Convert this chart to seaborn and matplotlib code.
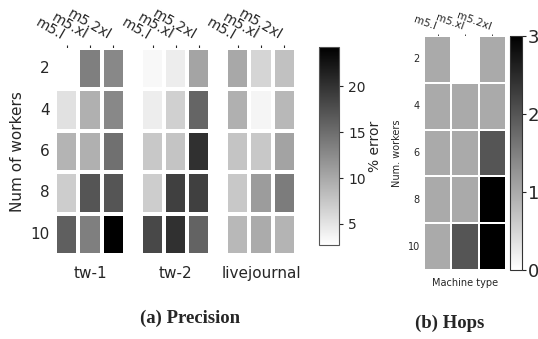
import numpy as np
import pandas as pd
import seaborn as sns
import matplotlib.pyplot as plt

# ---------- data ----------
machines = ["m5.l", "m5.xl", "m5.2xl"]
workers = [2, 4, 6, 8, 10]
datasets = ["tw-1", "tw-2", "livejournal"]

# % error per (workers, machine type)
tw1_err = [[2.7, 13.5, 12.8],
           [5.3, 9.4, 12.8],
           [9.1, 9.4, 14.8],
           [7.0, 17.1, 17.1],
           [16.2, 13.5, 24.3]]
tw2_err = [[3.3, 4.3, 10.4],
           [4.3, 6.7, 15.7],
           [7.4, 7.7, 20.2],
           [7.0, 18.9, 18.9],
           [18.2, 20.2, 15.9]]
lj_err = [[10.1, 6.3, 8.0],
          [9.4, 3.6, 8.7],
          [7.7, 7.4, 10.5],
          [7.4, 11.1, 13.8],
          [8.7, 9.8, 9.1]]

# hops per (workers, machine type)
hops = [[1, 0, 1],
        [1, 1, 1],
        [1, 1, 2],
        [1, 1, 3],
        [1, 2, 3]]

sns.set_style("white")
plt.rcParams['font.family'] = ['DejaVu Sans']

W, H = 538, 339
fig = plt.figure(figsize=(W / 100, H / 100), dpi=100)


def box(x0, y0, x1, y1):
    # pixel box -> figure fraction rect
    return [x0 / W, 1 - y1 / H, (x1 - x0) / W, (y1 - y0) / H]


# ---------- (a) Precision ----------
err_frames = [pd.DataFrame(d, index=workers, columns=machines)
              for d in (tw1_err, tw2_err, lj_err)]
panel_x = [(55, 125), (141, 210), (226, 296)]
cax = fig.add_axes(box(319, 47, 339, 245))

for i, (df, name, (x0, x1)) in enumerate(zip(err_frames, datasets, panel_x)):
    ax = fig.add_axes(box(x0, 48, x1, 255))
    last = i == len(datasets) - 1
    sns.heatmap(df, ax=ax, cmap="gray_r", vmin=2.7, vmax=24.3,
                linewidths=1.5, linecolor="white",
                cbar=last, cbar_ax=cax if last else None)
    ax.xaxis.tick_top()
    ax.set_xticklabels(machines, rotation=-30, ha="right", fontsize=10)
    ax.xaxis.set_label_position("bottom")
    ax.set_xlabel(name, fontsize=11, labelpad=8)
    ax.tick_params(axis="both", length=2, width=0.8, pad=2)
    if i == 0:
        ax.set_yticklabels(workers, rotation=0, fontsize=11)
        ax.set_ylabel("Num of workers", fontsize=11)
    else:
        ax.set_yticklabels([])
        ax.set_ylabel("")
    if last:
        cb = ax.collections[0].colorbar

cb.set_ticks([5, 10, 15, 20])
cb.ax.tick_params(labelsize=10, length=3, width=0.8)
cb.outline.set_linewidth(0.8)
cb.outline.set_edgecolor("#555555")
cb.set_label("% error", fontsize=10, labelpad=2)

# ---------- (b) Hops ----------
hops_df = pd.DataFrame(hops, index=workers, columns=machines)
hax = fig.add_axes(box(424, 36, 506, 270))
hcax = fig.add_axes(box(510, 36, 522, 270))
sns.heatmap(hops_df, ax=hax, cmap="gray_r", vmin=0, vmax=3,
            linewidths=1.2, linecolor="white", cbar_ax=hcax)
hax.xaxis.tick_top()
hax.set_xticklabels(machines, rotation=-20, ha="right", fontsize=7.5)
hax.set_yticklabels(workers, rotation=0, fontsize=7)
hax.xaxis.set_label_position("bottom")
hax.set_xlabel("Machine type", fontsize=7, labelpad=6)
hax.set_ylabel("Num. workers", fontsize=7)
hax.tick_params(axis="both", length=1.5, width=0.6, pad=1.5)

hcb = hax.collections[0].colorbar
hcb.set_ticks([0, 1, 2, 3])
hcb.ax.tick_params(labelsize=13, length=3, width=0.8, pad=1)
hcb.outline.set_linewidth(0.8)
hcb.outline.set_edgecolor("#333333")

# ---------- sub-captions ----------
fig.text(190 / W, 1 - 318 / H, "(a) Precision", ha="center", va="center",
         fontsize=13.5, fontweight="bold", family="Liberation Serif")
fig.text(450 / W, 1 - 323 / H, "(b) Hops", ha="center", va="center",
         fontsize=13.5, fontweight="bold", family="Liberation Serif")

fig.savefig("out.png", dpi=100)
